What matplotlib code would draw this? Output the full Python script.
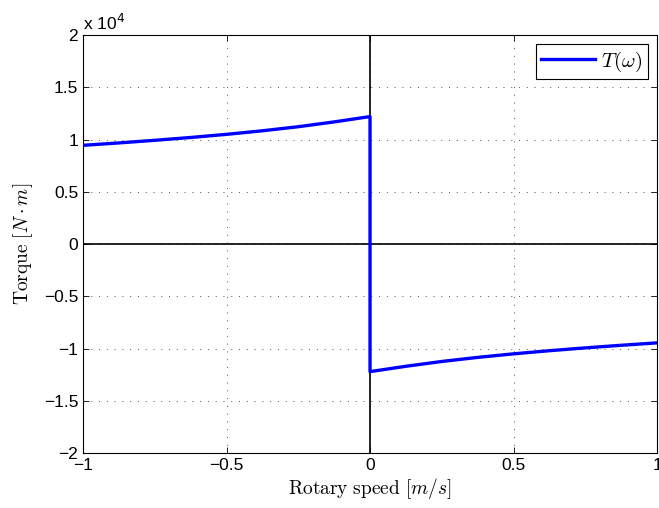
import matplotlib
matplotlib.use("Agg")
import matplotlib.pyplot as plt

# speed values and torque (torque in N*m)
speed_neg = [-1.0, -0.875, -0.75, -0.625, -0.5, -0.375, -0.25, -0.125, 0.0]
torque_neg = [9450, 9680, 9930, 10200, 10500, 10840, 11230, 11690, 12200]
speed_pos = [0.0, 0.125, 0.25, 0.375, 0.5, 0.625, 0.75, 0.875, 1.0]
torque_pos = [-12200, -11690, -11230, -10840, -10500, -10200, -9930, -9680, -9450]

y_ticks = [-2e4, -1.5e4, -1e4, -0.5e4, 0, 0.5e4, 1e4, 1.5e4, 2e4]
y_labels = ["\u22122", "\u22121.5", "\u22121", "\u22120.5", "0", "0.5", "1", "1.5", "2"]
x_ticks = [-1, -0.5, 0, 0.5, 1]
x_labels = ["\u22121", "\u22120.5", "0", "0.5", "1"]

plt.rcParams['mathtext.fontset'] = 'cm'
plt.rcParams['font.family'] = ['Liberation Sans', 'DejaVu Sans']

fig = plt.figure(figsize=(6.59, 5.08), dpi=100)
ax = fig.add_axes([0.126, 0.108, 0.871, 0.823])

speed = speed_neg + speed_pos
torque = torque_neg + torque_pos
ax.plot(speed, torque, color=(0, 0, 1), linewidth=2.4, label=r"$T(\omega)$", zorder=3)

ax.axhline(0, color='black', linewidth=1.2, zorder=2)
ax.axvline(0, color='black', linewidth=1.2, zorder=2)

ax.set_xlim(-1, 1)
ax.set_ylim(-2e4, 2e4)
ax.set_xticks(x_ticks)
ax.set_xticklabels(x_labels)
ax.set_yticks(y_ticks)
ax.set_yticklabels(y_labels)
ax.tick_params(direction='in', top=True, right=True, labelsize=12.5, length=4, width=0.6)
for s in ax.spines.values():
    s.set_linewidth(0.8)

ax.grid(True, linestyle=(0, (1, 7)), color='#555555', linewidth=0.7)

ax.text(0.0, 1.005, r"x 10$^{4}$", transform=ax.transAxes, fontsize=12.5,
        ha='left', va='bottom', family=['Liberation Sans', 'DejaVu Sans'],
        math_fontfamily='dejavusans')

ax.set_xlabel(r"$\mathrm{Rotary\ speed}\ [m/s]$", fontsize=14, labelpad=2)
ax.set_ylabel(r"$\mathrm{Torque}\ [N\cdot m]$", fontsize=14, labelpad=6)

leg = ax.legend(loc='upper right', fontsize=15, fancybox=False, framealpha=1,
                edgecolor='black', handlelength=2.6, borderpad=0.25,
                borderaxespad=0.45, handletextpad=0.3)
leg.get_frame().set_linewidth(0.8)

fig.savefig("out.png", dpi=100)
